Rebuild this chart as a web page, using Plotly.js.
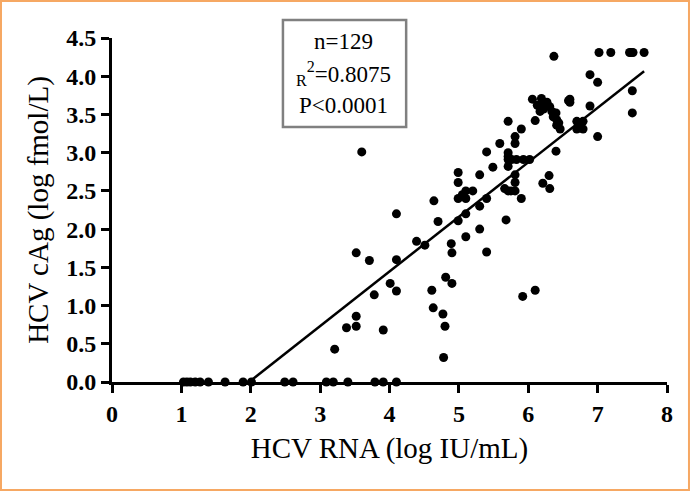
<!DOCTYPE html>
<html>
<head>
<meta charset="utf-8">
<script src="https://cdn.plot.ly/plotly-3.0.1.min.js"></script>
<style>
html,body{margin:0;padding:0;background:#fff;}
#chart{width:690px;height:492px;}
</style>
</head>
<body>
<div id="chart"></div>
<script>
// HCV RNA (log IU/mL)
const hcvRna = [
  1.03,1.08,1.13,1.20,1.27,1.39,1.63,1.89,2.01,2.49,2.61,3.09,3.19,3.40,3.79,3.91,4.10,
  3.21,3.38,3.52,3.52,3.91,3.52,3.71,4.10,3.78,4.01,4.10,3.60,4.10,4.39,4.51,4.61,4.63,4.64,
  4.70,4.77,4.80,4.78,4.81,4.90,4.90,4.89,4.99,4.99,4.99,4.99,5.10,5.20,5.10,5.10,5.10,5.30,
  5.30,5.30,5.40,5.49,5.40,5.40,5.59,5.68,5.66,5.71,5.71,5.71,5.71,5.71,5.81,5.81,5.83,5.81,
  5.81,5.81,5.90,5.93,5.90,6.02,5.92,6.10,6.06,6.10,6.19,6.17,6.25,6.31,6.17,6.34,6.40,6.41,
  6.41,6.46,6.40,6.30,6.21,6.31,6.37,6.60,6.60,6.70,6.79,6.70,6.79,6.89,6.89,7.00,7.00,7.02,
  7.19,7.46,7.51,7.67,7.50,7.50,
  6.22,6.36,6.44,6.74,5.76,5.75,6.27,6.13,5.05,6.58,5.71,7.48
];
// HCV cAg (log fmol/L)
const hcvCag = [
  0,0,0,0,0,0,0,0,0,0,0,0,0,0,0,0,0,
  0.43,0.71,0.73,0.86,0.68,1.69,1.59,1.60,1.14,1.29,1.19,3.01,2.20,1.84,1.79,1.20,0.97,2.37,
  2.10,0.89,0.73,0.32,1.37,1.29,1.69,1.81,2.74,2.61,2.40,2.11,2.50,2.50,2.40,2.20,1.90,2.71,
  2.30,2.00,3.01,2.81,2.40,1.70,3.12,2.12,2.53,3.41,3.00,2.91,2.82,2.50,3.21,3.12,2.91,2.71,
  2.61,2.50,3.31,2.91,2.40,2.91,1.12,1.20,3.70,3.42,3.71,3.62,3.63,3.60,3.54,3.54,3.52,3.43,
  3.36,3.31,3.02,2.70,2.60,2.53,4.26,3.70,3.66,3.41,3.41,3.31,3.31,3.61,4.02,3.92,3.21,4.31,
  4.31,4.31,4.31,4.31,3.81,3.52,
  3.57,3.47,3.39,3.36,2.91,2.50,3.66,3.62,2.45,3.68,2.95,4.31
];
// Linear regression shown on the chart
const fitSlope = 0.714;
const fitIntercept = -1.41;
const statLines = ["n=129", "<sub>R</sub><sup>2</sup>=0.8075", "P<0.0001"];
const xTicks = [0,1,2,3,4,5,6,7,8];
const yTicks = [0,0.5,1,1.5,2,2.5,3,3.5,4,4.5];

const xStart = -fitIntercept / fitSlope;
const xEnd = Math.max(...hcvRna);
const lineX = [xStart, xEnd];
const lineY = lineX.map(v => fitIntercept + fitSlope * v);

const serif = "Liberation Serif, Times New Roman, serif";

const traces = [
  {
    type: "scatter", mode: "markers", x: hcvRna, y: hcvCag,
    marker: {color: "#000", size: 9, line: {width: 0}},
    cliponaxis: false, hoverinfo: "skip", showlegend: false
  },
  {
    type: "scatter", mode: "lines", x: lineX, y: lineY,
    line: {color: "#000", width: 2.5},
    cliponaxis: false, hoverinfo: "skip", showlegend: false
  }
];

const annY = [0.99, 0.897, 0.805];
const layout = {
  width: 690, height: 492,
  margin: {l: 112, r: 23, t: 38, b: 110},
  paper_bgcolor: "#fff", plot_bgcolor: "#fff",
  showlegend: false,
  xaxis: {
    range: [0, 8], tickvals: xTicks, ticktext: xTicks.map(String),
    showgrid: false, zeroline: false, showline: true, linecolor: "#000", linewidth: 3,
    ticks: "outside", ticklen: 8, tickwidth: 3, tickcolor: "#000",
    tickfont: {family: serif, size: 24, color: "#000", weight: "bold"},
    title: {text: "HCV RNA (log IU/mL)", font: {family: serif, size: 29, color: "#000"}, standoff: 12}
  },
  yaxis: {
    range: [0, 4.5], tickvals: yTicks, ticktext: yTicks.map(v => v.toFixed(1)),
    showgrid: false, zeroline: false, showline: true, linecolor: "#000", linewidth: 3,
    ticks: "outside", ticklen: 8, tickwidth: 3, tickcolor: "#000",
    tickfont: {family: serif, size: 24, color: "#000", weight: "bold"},
    title: {text: "HCV cAg (log fmol/L)", font: {family: serif, size: 29, color: "#000"}, standoff: 10}
  },
  shapes: [
    {type: "rect", xref: "paper", yref: "paper", x0: 0.308, x1: 0.530, y0: 0.741, y1: 1.052,
     line: {color: "#808080", width: 2.5}, fillcolor: "rgba(255,255,255,0)"},
    {type: "rect", xref: "paper", yref: "paper", x0: -0.2, x1: 1.0396, y0: -0.314, y1: 1.1076,
     line: {color: "#F6A863", width: 2}, fillcolor: "rgba(0,0,0,0)"}
  ],
  annotations: statLines.map((t, i) => ({
    text: t, xref: "paper", yref: "paper", x: 0.418, y: annY[i],
    xanchor: "center", yanchor: "middle", showarrow: false,
    font: {family: serif, size: 23, color: "#000"}
  }))
};

Plotly.newPlot("chart", traces, layout, {staticPlot: true, displayModeBar: false});
</script>
</body>
</html>
